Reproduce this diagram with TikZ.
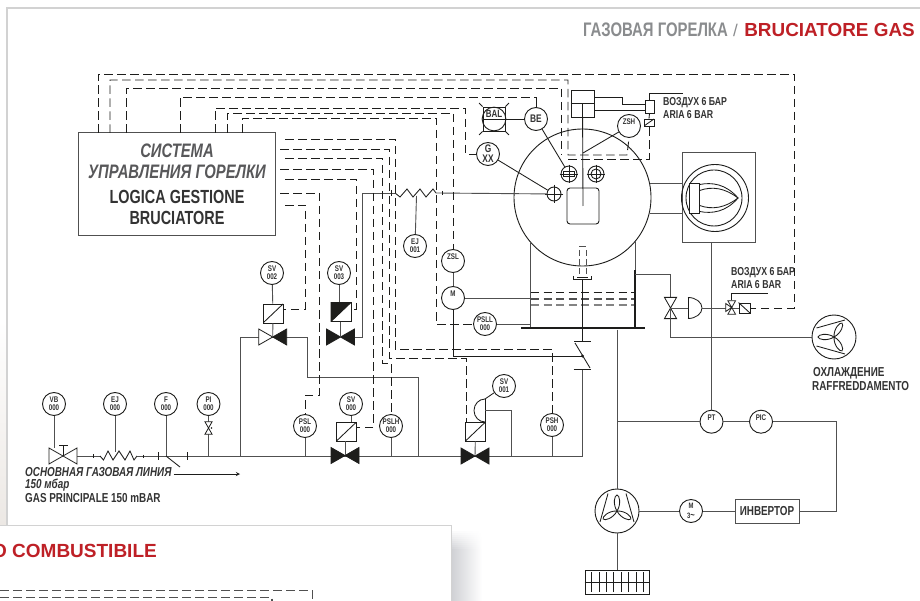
\documentclass[tikz,border=0pt]{standalone}
\usepackage{fontspec}
\setmainfont{Liberation Sans}
\newfontfamily\cond[FakeStretch=0.76]{Liberation Sans}
\definecolor{redtitle}{HTML}{BE2026}
\definecolor{graytitle}{HTML}{8A8C8E}
\definecolor{pipecol}{HTML}{505050}
\definecolor{inkcol}{HTML}{1D1D1B}
\definecolor{txtcol}{HTML}{333333}
\definecolor{softtxt}{HTML}{58585A}
\definecolor{edgecol}{HTML}{D2D2D2}
\definecolor{shadowcol}{HTML}{D0D1D5}
\definecolor{stripcol}{HTML}{ECE8E4}
\tikzset{
	pipe/.style={draw=pipecol,line width=.9},
	thinpipe/.style={draw=inkcol,line width=.85},
	sigline/.style={draw=inkcol,line width=.9,dash pattern=on 8.5pt off 4.5pt},
	inst/.style={circle,draw=inkcol,line width=.9,fill=white,minimum size=23,inner sep=0,align=center,text=txtcol,font=\cond\bfseries\fontsize{8.2}{8.2}\selectfont},
	instbig/.style={inst,font=\cond\bfseries\fontsize{11}{10}\selectfont},
	sight/.style={circle,draw=inkcol,line width=.9,minimum size=16,inner sep=0},
	plainbox/.style={rectangle,draw=inkcol,line width=.9,inner sep=0},
	solbox/.style={plainbox,minimum width=20,minimum height=19,fill=white,path picture={\draw[thinpipe] (path picture bounding box.south west) -- (path picture bounding box.north east);}},
	smalltxt/.style={anchor=west,inner sep=0,text=txtcol,font=\cond\bfseries\fontsize{13}{13}\selectfont},
	airtxt/.style={smalltxt,font=\cond\bfseries\fontsize{11.5}{12}\selectfont},
	pics/bowtie/.style 2 args={code={
		\filldraw[draw=inkcol,line width=.8,fill=#1] (-14,-8) -- (0,0) -- (-14,8) -- cycle;
		\filldraw[draw=inkcol,line width=.8,fill=#2] (14,-8) -- (0,0) -- (14,8) -- cycle;
	}},
	pics/rotor/.style={code={
		\foreach \a in {0,120,240}
			\draw[thinpipe,rotate=\a] (0,0) .. controls (-4.5,-7) and (-2.5,-16) .. (0,-16) .. controls (2.5,-16) and (4.5,-7) .. (0,0);
		\draw[thinpipe] (-9,-17.5) -- (-17,11);
		\draw[thinpipe] (9,-17.5) -- (17,11);
	}}
}
\begin{document}
\begin{tikzpicture}[x=1pt,y=-1pt]

	\clip (0,0) rectangle (920,601);
	\fill[white] (0,0) rectangle (920,601);

	\shade[top color=white,bottom color=stripcol] (0,320) rectangle (7,525);
	\draw[edgecol,line width=1.4] (7,525) -- (7,8) -- (920,8);
	\foreach \p in {0,1,...,9}
		\shade[left color=shadowcol!\the\numexpr\p*10\relax!white,right color=white,shading angle=90] (452,529+\p*2) rectangle (482,531+\p*2+.5);
	\shade[left color=shadowcol,right color=white] (452,549) rectangle (482,601);
	\fill[white] (0,525) rectangle (451,601);
	\draw[edgecol,line width=1] (0,525) -- (451,525) -- (451,601);

	\node[anchor=west,inner sep=0,text=graytitle,font=\cond\bfseries\fontsize{19.6}{20}\selectfont] (titleru) at (583,30) {ГАЗОВАЯ ГОРЕЛКА};
	\node[anchor=west,inner sep=0,text=graytitle,font=\fontsize{17}{17}\selectfont] (titlesep) at (733,30) {/};
	\node[anchor=east,inner sep=0,text=redtitle,font=\bfseries\fontsize{18.9}{18}\selectfont] (titleit) at (915,30) {BRUCIATORE GAS};
	\node[anchor=east,inner sep=0,text=redtitle,font=\bfseries\fontsize{19}{18}\selectfont] (nexttitle) at (157,551) {O COMBUSTIBILE};

	\node[plainbox,draw=pipecol,line width=1,minimum width=197,minimum height=103] (logica) at (176.5,184.5) {};
	\node[inner sep=0,text=softtxt,font=\cond\bfseries\itshape\fontsize{19.5}{19}\selectfont] (sistema) at (177,151) {СИСТЕМА};
	\node[inner sep=0,text=softtxt,font=\cond\bfseries\itshape\fontsize{19.5}{19}\selectfont] (upravl) at (177,172) {УПРАВЛЕНИЯ ГОРЕЛКИ};
	\node[inner sep=0,text=txtcol,font=\cond\bfseries\fontsize{19}{19}\selectfont] (gestione) at (177,197) {LOGICA GESTIONE};
	\node[inner sep=0,text=txtcol,font=\cond\bfseries\fontsize{19}{19}\selectfont] (brucia) at (177,218) {BRUCIATORE};

	\node[inst] (vb) at (54,404) {VB\\000};
	\node[inst] (ejin) at (115,404) {EJ\\000};
	\node[inst] (fi) at (166,404) {F\\000};
	\node[inst] (pi) at (208.5,404) {PI\\000};
	\node[inst] (sv002) at (272,273) {SV\\002};
	\node[inst] (sv003) at (339,273) {SV\\003};
	\node[inst] (sv000) at (351,404) {SV\\000};
	\node[inst] (sv001) at (504,386) {SV\\001};
	\node[inst] (ej001) at (415,246) {EJ\\001};
	\node[inst] (psl) at (305,426) {PSL\\000};
	\node[inst] (pslh) at (391,426) {PSLH\\000};
	\node[inst] (psh) at (552,425) {PSH\\000};
	\node[inst] (psll) at (485,324) {PSLL\\000};
	\node[inst] (zsl) at (453,261) {ZSL\\~};
	\node[inst] (mot) at (453,298) {M\\~};
	\node[inst] (zsh) at (629,126) {ZSH\\~};
	\node[inst] (pt) at (711.5,421.7) {PT\\~};
	\node[inst] (picb) at (761,421.7) {PIC\\~};
	\node[inst,font=\cond\bfseries\fontsize{7.8}{9.5}\selectfont] (m3) at (691,511) {M\\3{\fontsize{10}{9.5}\selectfont\textasciitilde}};
	\node[instbig] (be) at (536,119) {BE};
	\node[instbig] (gxx) at (488,154) {G\\XX};

	\node[plainbox,minimum width=22,minimum height=24] (balb) at (494,119) {};
	\node[inst,fill=none,font=\cond\bfseries\fontsize{10.5}{10}\selectfont] (balc) at (494,119) {BAL\\~};
	\draw[thinpipe] (balb.north west) -- ++(-3.5,-3.5);
	\draw[thinpipe] (balb.north east) -- ++(3.5,-3.5);
	\draw[thinpipe] (balb.south west) -- ++(-3.5,3.5);
	\draw[thinpipe] (balb.south east) -- ++(3.5,3.5);
	\draw[thinpipe] (balb.west) -- (be);
	\draw[thinpipe] (be.north) -- ++(0,-5);

	\node[circle,draw=inkcol,line width=.9,minimum size=137,inner sep=0] (burner) at (582.5,197.5) {};
	\node[plainbox,minimum width=32,minimum height=36,rounded corners=3] (flamebox) at (583,206) {};
	\node[plainbox,minimum width=23,minimum height=27,fill=white] (cyl) at (582.5,103.5) {};
	\draw[inkcol,line width=1.6] (cyl.west) -- (cyl.east);
	\draw[thinpipe] (cyl.center) -- (flamebox.center);
	\coordinate (rodtip) at (583,153);
	\draw[thinpipe] (zsh) -- (rodtip);

	\node[sight] (sighta) at (569,174) {};
	\node[sight] (sightb) at (596,174) {};
	\node[circle,draw=inkcol,line width=.9,minimum size=10,inner sep=0] (sightc) at (596,174) {};
	\node[circle,draw=inkcol,line width=.9,minimum size=14,inner sep=0] (sightg) at (554,194) {};
	\node[plainbox,minimum width=11,minimum height=5] (sightr) at (569,174) {};
	\draw[thinpipe] (sighta.west) ++(-1,0) -- ++(18,0);
	\draw[thinpipe] (sighta.north) ++(0,-1) -- ++(0,18);
	\draw[thinpipe] (sightb.west) ++(-1,0) -- ++(18,0);
	\draw[thinpipe] (sightb.north) ++(0,-1) -- ++(0,18);
	\draw[thinpipe] (sightg.east) ++(2,0) -- ++(-18,0);
	\draw[thinpipe] (sightg.north) ++(0,-2) -- ++(0,18);
	\draw[thinpipe] (be) -- (sighta);
	\draw[thinpipe] (gxx) -- (sightg);

	\node[plainbox,minimum width=9,minimum height=13,fill=white] (airb) at (649.5,106.5) {};
	\node[plainbox,minimum width=10,minimum height=7,path picture={\draw[thinpipe] (path picture bounding box.south west) -- (path picture bounding box.north east);}] (airs) at (649,122.5) {};
	\coordinate (airin) at (683,93);
	\draw[thinpipe] (airb.north) |- (airin);
	\draw[thinpipe] (airb.south) -- (airs.north);
	\draw[thinpipe] ([yshift=6.5]cyl.east) -| (622,104) -- ([yshift=2.5]airb.west);
	\draw[thinpipe] ([yshift=-7]cyl.east) -- ([yshift=-4]airb.west);
	\node[airtxt] (airua) at (663,103) {ВОЗДУХ 6 БАР};
	\node[airtxt] (airita) at (663,115) {ARIA 6 BAR};

	\node[rectangle,draw=pipecol,line width=1,minimum width=73,minimum height=90,inner sep=0] (headbox) at (718.5,198) {};
	\node[circle,draw=inkcol,line width=.9,minimum size=67,inner sep=0] (ringout) at (715,198) {};
	\node[circle,draw=inkcol,line width=.9,minimum size=56,inner sep=0] (ringin) at (714,198) {};
	\node[plainbox,minimum width=10,minimum height=30,fill=white] (gun) at (694,198) {};
	\draw[thinpipe] ([yshift=-2]gun.north east) .. controls (712,182) and (726,184) .. (738,198) .. controls (726,212) and (712,214) .. ([yshift=2]gun.south east);
	\draw[thinpipe] ([yshift=-8]gun.north east) .. controls (712,186) and (725,188) .. (738,198) .. controls (725,208) and (712,210) .. ([yshift=8]gun.south east);
	\coordinate (neckup) at (650,183);
	\coordinate (neckdn) at (650,213);
	\draw[pipe] (neckup) -- (neckup -| headbox.west);
	\draw[pipe] (neckdn) -- (neckdn -| headbox.west);

	\coordinate (wallla) at (530,241.5);
	\coordinate (walllb) at (530,328);
	\coordinate (wallra) at (635,241.5);
	\coordinate (wallrb) at (635,328);
	\coordinate (wallrc) at (635,270);
	\draw[pipe] (wallla) -- (walllb);
	\draw[pipe] (wallra) -- (wallrb);
	\draw[inkcol,line width=1.4] (wallrc) -- (wallrb);
	\draw[sigline,dash pattern=on 8pt off 4.5pt] (531,292) -- (634,292);
	\draw[sigline,draw=pipecol,line width=1.1,dash pattern=on 8pt off 4.5pt] (531,299) -- (634,299);
	\draw[sigline,draw=pipecol!70,line width=1.1,dash pattern=on 8pt off 4.5pt] (531,305) -- (634,305);
	\node[rectangle,fill=inkcol,minimum width=124,minimum height=2.6,inner sep=0] (plate) at (583,328) {};

	\coordinate (lancetop) at (579,246);
	\draw[thinpipe,draw=pipecol] (lancetop) -- ++(7,0);
	\draw[sigline,draw=pipecol,dash pattern=on 6pt off 3pt] (579,250) -- (579,275);
	\draw[sigline,draw=pipecol,dash pattern=on 6pt off 3pt] (586,250) -- (586,275);
	\draw[thinpipe] (577,277) -- (588,277);
	\draw[thinpipe] (573.5,276) -- (573.5,279) -- (591.5,279) -- (591.5,276);
	\coordinate (checktop) at (582.5,341.5);
	\coordinate (checkbot) at (582.5,369);
	\coordinate (gasend) at (582.5,456);
	\draw[thinpipe] (582.5,279) -- (checktop);
	\draw[pipe] (checkbot) -- (gasend);
	\draw[thinpipe] (checktop) ++(-8.5,0) -- ++(17,0);
	\draw[thinpipe] (checkbot) ++(-9,0) -- ++(17,0);
	\draw[thinpipe] (575,343) -- (590,368);
	\coordinate (checkdot) at (582.5,356);
	\fill[inkcol] (checkdot) circle (1.6);

	\coordinate (gasin) at (77,456);
	\coordinate (ejstart) at (100,456);
	\coordinate (ejstop) at (137,456);
	\coordinate (teeleft) at (240,456);
	\coordinate (teeup) at (240,337);
	\coordinate (teemid) at (307,337);
	\coordinate (teebend) at (307,377);
	\coordinate (teeback) at (418,377);
	\coordinate (teeend) at (418,456);
	\draw[pipe] (gasin) -- (ejstart);
	\draw[thinpipe] plot coordinates {(100,456) (103.5,460) (108,451) (113,460) (119,451) (125,460) (130,451) (134,460) (137,456)};
	\draw[pipe] (ejstop) -- (gasend);
	\draw[thinpipe] (93,454) -- (93,458);
	\draw[thinpipe] (143,454.5) -- (143,457.5);
	\draw[thinpipe] (158,452) -- (158,460);
	\draw[thinpipe] (187,452) -- (187,460);
	\draw[pipe] (teeleft) -- (teeup) -- (teemid);
	\draw[pipe] (teemid) -- (teebend) -- (teeback) -- (teeend);

	\path (272.7,337) pic {bowtie={white}{inkcol}};
	\path (340.5,337) pic {bowtie={inkcol}{inkcol}};
	\path (345,455.5) pic {bowtie={inkcol}{inkcol}};
	\path (475,456) pic {bowtie={inkcol}{inkcol}};
	\path (63,456) pic {bowtie={white}{white}};

	\coordinate (vbstem) at (54,448);
	\coordinate (ejstem) at (115,452);
	\coordinate (fstem) at (166,456);
	\coordinate (fleak) at (180,467);
	\coordinate (pistem) at (208.5,422);
	\coordinate (pistop) at (208.5,434);
	\coordinate (pijoin) at (208.5,456);
	\draw[pipe] (vb) -- (vbstem);
	\draw[pipe] (ejin) -- (ejstem);
	\draw[pipe] (fi) -- (fstem);
	\draw[thinpipe] (fstem) -- (fleak);
	\draw[pipe] (pi) -- (pistem);
	\draw[pipe] (pistop) -- (pijoin);
	\path (208.5,428) pic[rotate=90,scale=.45] {bowtie={white}{white}};
	\fill[inkcol] (211.5,428) circle (.8);
	\draw[thinpipe] (63,456) -- (63,445.7);
	\draw[thinpipe] (59,445.7) -- (68,445.7);

	\node[inner sep=0,anchor=west,text=txtcol,font=\cond\bfseries\itshape\fontsize{13}{13}\selectfont] (linea) at (25,472) {ОСНОВНАЯ ГАЗОВАЯ ЛИНИЯ};
	\node[inner sep=0,anchor=west,text=txtcol,font=\cond\bfseries\itshape\fontsize{13}{13}\selectfont] (lineb) at (25,485) {150 мбар};
	\node[inner sep=0,anchor=west,text=txtcol,font=\cond\bfseries\fontsize{13}{13}\selectfont] (linec) at (25,498) {GAS PRINCIPALE 150 mBAR};
	\coordinate (flowend) at (240,474);
	\draw[thinpipe,-stealth] (linea.east |- flowend) ++(2,0) -- (flowend);

	\node[solbox] (sb002) at (273,313.5) {};
	\node[solbox] (sb003) at (341,312) {};
	\fill[inkcol] (sb003.north west) -- (sb003.north east) -- (sb003.south west) -- cycle;
	\node[solbox] (sb000) at (346.5,431.5) {};
	\node[solbox] (sb001) at (475.5,431.5) {};
	\draw[pipe] (sv002) -- (sb002);
	\draw[pipe] (sb002) -- (272.7,337);
	\draw[pipe] (sv003) -- (339,302.5);
	\draw[pipe] (340.5,321.5) -- (340.5,337);
	\draw[pipe] (sv000) -- (sb000.north -| sv000);
	\draw[pipe] (345,441) -- (345,455);
	\draw[pipe] (sb001) -- (475,456);
	\draw[pipe] (psl) -- (psl |- gasend);
	\draw[pipe] (pslh) -- (pslh |- gasend);
	\draw[pipe] (psh) -- (psh |- gasend);

	\coordinate (dtop) at (485,399);
	\coordinate (dmid) at (485,410.5);
	\coordinate (dbot) at (485,422);
	\coordinate (dlink) at (511,456);
	\draw[thinpipe,fill=white] (dtop) arc [start angle=-90,end angle=-270,x radius=11,y radius=11.5];
	\draw[thinpipe] (dtop) -- (dbot);
	\draw[thinpipe] (sv001) -- (dtop);
	\draw[pipe] (dmid) -| (dlink);

	\coordinate (hotbus) at (362,337);
	\coordinate (hotup) at (362,193);
	\coordinate (hotzig) at (395,193);
	\coordinate (hotout) at (436,193);
	\draw[pipe] (355,337) -- (hotbus) -- (hotup) -- (hotzig);
	\draw[thinpipe] plot coordinates {(395,193) (400,197) (407,189) (413,197) (420,189) (426,197) (433,189) (436,193)};
	\draw[pipe] (hotout) -- (sightg);
	\draw[thinpipe] (391,190) -- (391,196);
	\draw[thinpipe] (442,191) -- (442,195);
	\coordinate (ejtap) at (416.5,196);
	\draw[pipe] (ej001) -- (ejtap);

	\draw[pipe] (zsl) -- (mot);
	\draw[pipe] (mot) -- (mot -| wallla);
	\draw[pipe] (psll) -- (psll -| wallla);
	\draw[thinpipe] (mot) |- (checkdot);

	\coordinate (wallstub) at (635,274);
	\coordinate (coolmid) at (670.5,308);
	\coordinate (dcool) at (688,308);
	\coordinate (coolret) at (670.5,337);
	\draw[pipe] (wallstub) -| (coolmid);
	\path (coolmid) pic[rotate=90,scale=.76] {bowtie={white}{white}};
	\draw[pipe] (coolmid) -- (dcool);
	\draw[thinpipe,fill=white] (688,297.5) arc [start angle=-90,end angle=90,x radius=14,y radius=10.5];
	\draw[thinpipe] (688,297.5) -- (688,318.5);
	\node[plainbox,minimum width=11,minimum height=10] (csol) at (744.5,308) {};
	\draw[thinpipe] (csol.north west) -- (csol.south east);
	\draw[pipe] (702,308) -- (csol.west);
	\path (731.7,307.5) pic[rotate=90,scale=.48] {bowtie={white}{white}};
	\draw[thinpipe,fill=white] (725.7,303.5) -- (731.7,307.5) -- (725.7,311.5) -- cycle;
	\coordinate (coolair) at (768,293);
	\draw[thinpipe] (731.7,300.5) |- (coolair);
	\node[airtxt] (coolua) at (731,273) {ВОЗДУХ 6 БАР};
	\node[airtxt] (coolita) at (731,285) {ARIA 6 BAR};

	\node[circle,draw=inkcol,line width=.9,minimum size=44,inner sep=0] (fancool) at (834,337) {};
	\path (fancool) pic[rotate=90] {rotor};
	\node[smalltxt] (coolru) at (813,373) {ОХЛАЖДЕНИЕ};
	\node[smalltxt] (coolit) at (812,386) {RAFFREDDAMENTO};
	\draw[pipe] (coolmid) -- (coolret) -- (fancool);

	\draw[pipe] (headbox.south -| pt) -- (pt);

	\coordinate (tee) at (617,421.7);
	\coordinate (pidcorner) at (836,465);
	\node[circle,draw=inkcol,line width=.9,minimum size=44,inner sep=0] (fanbig) at (617,511) {};
	\path (fanbig) pic {rotor};
	\node[plainbox,draw=pipecol,line width=1,minimum width=64,minimum height=24,text=txtcol,font=\cond\bfseries\fontsize{13}{13}\selectfont] (inv) at (767,511) {ИНВЕРТОР};
	\node[plainbox,minimum width=64,minimum height=24] (rad) at (617,582) {};
	\draw[pipe] (plate.south -| fanbig) -- (fanbig);
	\draw[pipe] (tee) -- (pt);
	\draw[pipe] (pt) -- (picb);
	\draw[pipe] (picb) -| (pidcorner) |- (inv.east);
	\draw[pipe] (inv) -- (m3);
	\draw[pipe] (m3) -- (fanbig);
	\draw[pipe] (fanbig) -- (rad);
	\draw[thinpipe] (rad.west) -- (rad.east);
	\foreach \x in {591,599,606,613,621,628,636,643}
		\draw[thinpipe] (\x,572) -- (\x,592);

	\coordinate (ctrla) at (98,133);
	\coordinate (ctrlb) at (110,133);
	\coordinate (ctrlc) at (126,133);
	\coordinate (ctrld) at (180,133);
	\coordinate (ctrle) at (215,133);
	\coordinate (ctrlf) at (227,133);
	\coordinate (ctrlg) at (242,133);
	\draw[sigline] (ctrla) |- (794,74) |- (csol.east);
	\draw[sigline] (ctrlb) |- (568,80) |- (627,155) -- (zsh.south);
	\draw[sigline] (ctrlc) |- (561,88) -- (561,155);
	\draw[sigline] (568,159) -| (airs.south);
	\draw[sigline] (ctrld) |- (536,97) -- (be.north);
	\draw[sigline] (ctrle) |- (465,108) |- (gxx.west);
	\draw[sigline] (ctrlf) |- (453,113) -- (zsl.north);
	\draw[sigline] (ctrlg) |- (436,118) |- (psll.west);

	\coordinate (rowa) at (285,139);
	\coordinate (rowb) at (280,149);
	\coordinate (rowc) at (285,158);
	\coordinate (rowd) at (280,169);
	\coordinate (rowe) at (285,179);
	\coordinate (rowf) at (280,193);
	\coordinate (rowg) at (285,205);
	\draw[sigline] (rowa) -| (395,349) -| (psh.north);
	\draw[sigline] (rowb) -| (389,358) -| (466,422);
	\draw[sigline] (rowc) -| (382,363) -| (pslh.north);
	\draw[sigline] (rowd) -| (373,427) -- (sb000.east |- 0,427);
	\draw[sigline] (rowe) -| (356,309) -- (sb003.east |- 0,309);
	\draw[sigline] (rowf) -| (319,395) -| (psl.north);
	\draw[sigline] (rowg) -| (305,309) -- (sb002.east |- 0,309);

	\draw[sigline,draw=pipecol] (0,590) -| (312,601);
	\draw[sigline,draw=pipecol,line width=1.1] (0,597.5) -| (272,601);

\end{tikzpicture}
\end{document}
